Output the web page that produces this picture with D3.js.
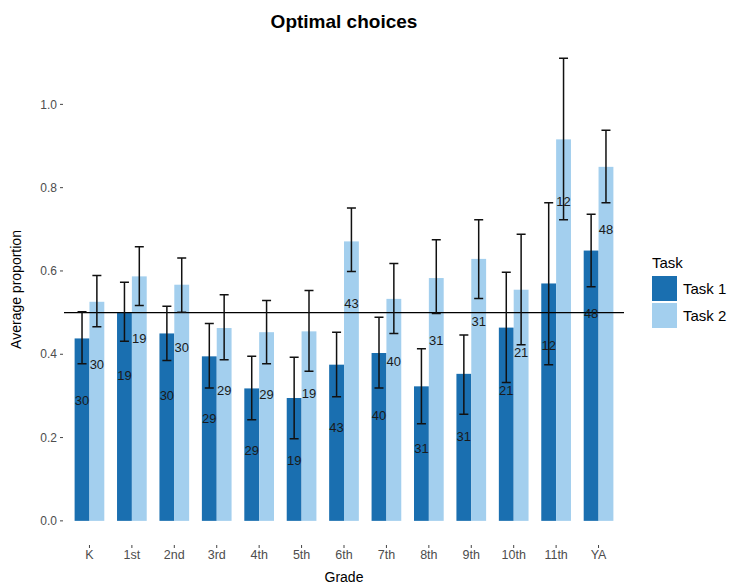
<!DOCTYPE html>
<html>
<head>
<meta charset="utf-8">
<script src="https://cdn.jsdelivr.net/npm/d3@7"></script>
<style>
  body { margin: 0; background: #fff; }
  svg { font-family: "Liberation Sans", Arial, sans-serif; }
</style>
</head>
<body>
<figure id="chart" style="margin:0"></figure>
<script>
const grades = ["K", "1st", "2nd", "3rd", "4th", "5th", "6th", "7th", "8th", "9th", "10th", "11th", "YA"];
const tasks = ["Task 1", "Task 2"];

const task1Mean = [0.438, 0.499, 0.450, 0.395, 0.318, 0.295, 0.375, 0.403, 0.323, 0.353, 0.464, 0.570, 0.649];
const task1Lo   = [0.377, 0.431, 0.385, 0.319, 0.243, 0.197, 0.298, 0.319, 0.233, 0.256, 0.332, 0.375, 0.562];
const task1Hi   = [0.502, 0.573, 0.515, 0.474, 0.395, 0.393, 0.453, 0.489, 0.413, 0.446, 0.597, 0.764, 0.736];

const task2Mean = [0.526, 0.587, 0.567, 0.463, 0.453, 0.455, 0.671, 0.533, 0.583, 0.629, 0.555, 0.916, 0.850];
const task2Lo   = [0.466, 0.517, 0.501, 0.387, 0.377, 0.359, 0.599, 0.450, 0.498, 0.534, 0.423, 0.723, 0.764];
const task2Hi   = [0.589, 0.658, 0.631, 0.543, 0.529, 0.553, 0.751, 0.618, 0.675, 0.723, 0.688, 1.111, 0.938];

// sample sizes printed on the bars
const sampleN = [30, 19, 30, 29, 29, 19, 43, 40, 31, 31, 21, 12, 48];

const yTicks = [0, 0.2, 0.4, 0.6, 0.8, 1.0];
const chance = 0.5;

const width = 735, height = 586;
const panel = { left: 64, right: 624, top: 35, bottom: 544 };
const color = d3.scaleOrdinal(tasks, ["#1a6fb0", "#a3cfee"]);

// long format rows
const rows = [];
grades.forEach((g, i) => {
  rows.push({ grade: g, task: tasks[0], mean: task1Mean[i], lo: task1Lo[i], hi: task1Hi[i], n: sampleN[i] });
  rows.push({ grade: g, task: tasks[1], mean: task2Mean[i], lo: task2Lo[i], hi: task2Hi[i], n: sampleN[i] });
});

const x = d3.scalePoint(grades, [panel.left, panel.right]).padding(0.6);
const dodge = d3.scaleBand(tasks, [-x.step() * 0.35, x.step() * 0.35]);

const yMax = d3.max(rows, d => d.hi);
const y = d3.scaleLinear([-yMax * 0.05, yMax * 1.05], [panel.bottom, panel.top]);

const svg = d3.select("#chart").append("svg")
  .attr("width", width)
  .attr("height", height);

// Title
svg.append("text")
  .attr("x", (panel.left + panel.right) / 2)
  .attr("y", 28)
  .attr("text-anchor", "middle")
  .attr("font-size", 19)
  .attr("font-weight", "bold")
  .attr("fill", "#000")
  .text("Optimal choices");

// Bars
svg.append("g")
  .selectAll("rect")
  .data(rows)
  .join("rect")
  .attr("x", d => x(d.grade) + dodge(d.task))
  .attr("width", dodge.bandwidth())
  .attr("y", d => y(d.mean))
  .attr("height", d => y(0) - y(d.mean))
  .attr("fill", d => color(d.task));

// Reference line at 0.5
svg.append("line")
  .attr("x1", panel.left)
  .attr("x2", panel.right)
  .attr("y1", y(chance))
  .attr("y2", y(chance))
  .attr("stroke", "#000")
  .attr("stroke-width", 1.3);

// Error bars
const capHalf = 4.5;
svg.append("g")
  .attr("stroke", "#111")
  .attr("stroke-width", 1.5)
  .selectAll("path")
  .data(rows)
  .join("path")
  .attr("fill", "none")
  .attr("d", d => {
    const cx = x(d.grade) + dodge(d.task) + dodge.bandwidth() / 2;
    return `M${cx - capHalf},${y(d.hi)}H${cx + capHalf}M${cx},${y(d.hi)}V${y(d.lo)}M${cx - capHalf},${y(d.lo)}H${cx + capHalf}`;
  });

// Sample size labels, sitting 0.15 below the bar top
svg.append("g")
  .selectAll("text")
  .data(rows)
  .join("text")
  .attr("x", d => x(d.grade) + dodge(d.task) + dodge.bandwidth() / 2)
  .attr("y", d => y(d.mean - 0.15))
  .attr("dy", "0.35em")
  .attr("text-anchor", "middle")
  .attr("font-size", 13)
  .attr("fill", "#1a1a1a")
  .text(d => d.n);

// Y axis (ticks only, no line)
const yAxis = svg.append("g");
yAxis.selectAll("line")
  .data(yTicks)
  .join("line")
  .attr("x1", panel.left - 4)
  .attr("x2", panel.left - 1)
  .attr("y1", d => y(d))
  .attr("y2", d => y(d))
  .attr("stroke", "#444")
  .attr("stroke-width", 1);
yAxis.selectAll("text")
  .data(yTicks)
  .join("text")
  .attr("x", panel.left - 7)
  .attr("y", d => y(d))
  .attr("dy", "0.35em")
  .attr("text-anchor", "end")
  .attr("font-size", 12)
  .attr("fill", "#4d4d4d")
  .text(d3.format(".1f"));

// X axis
const xAxis = svg.append("g");
xAxis.selectAll("line")
  .data(grades)
  .join("line")
  .attr("x1", d => x(d))
  .attr("x2", d => x(d))
  .attr("y1", panel.bottom + 1)
  .attr("y2", panel.bottom + 4)
  .attr("stroke", "#444")
  .attr("stroke-width", 1);
xAxis.selectAll("text")
  .data(grades)
  .join("text")
  .attr("x", d => x(d))
  .attr("y", panel.bottom + 15)
  .attr("text-anchor", "middle")
  .attr("font-size", 12.5)
  .attr("fill", "#4d4d4d")
  .text(d => d);

// Axis titles
svg.append("text")
  .attr("x", (panel.left + panel.right) / 2)
  .attr("y", 582)
  .attr("text-anchor", "middle")
  .attr("font-size", 14)
  .attr("fill", "#000")
  .text("Grade");

svg.append("text")
  .attr("transform", `translate(21,${(panel.top + panel.bottom) / 2}) rotate(-90)`)
  .attr("text-anchor", "middle")
  .attr("font-size", 14)
  .attr("fill", "#000")
  .text("Average proportion");

// Legend
const legend = svg.append("g").attr("transform", "translate(652,0)");
legend.append("text")
  .attr("x", 0)
  .attr("y", 268)
  .attr("font-size", 15)
  .attr("fill", "#000")
  .text("Task");
const item = legend.selectAll("g")
  .data(tasks)
  .join("g")
  .attr("transform", (d, i) => `translate(0,${276 + i * 27})`);
item.append("rect")
  .attr("width", 25)
  .attr("height", 25)
  .attr("fill", d => color(d));
item.append("text")
  .attr("x", 31)
  .attr("y", 12.5)
  .attr("dy", "0.35em")
  .attr("font-size", 15)
  .attr("fill", "#000")
  .text(d => d);
</script>
</body>
</html>
